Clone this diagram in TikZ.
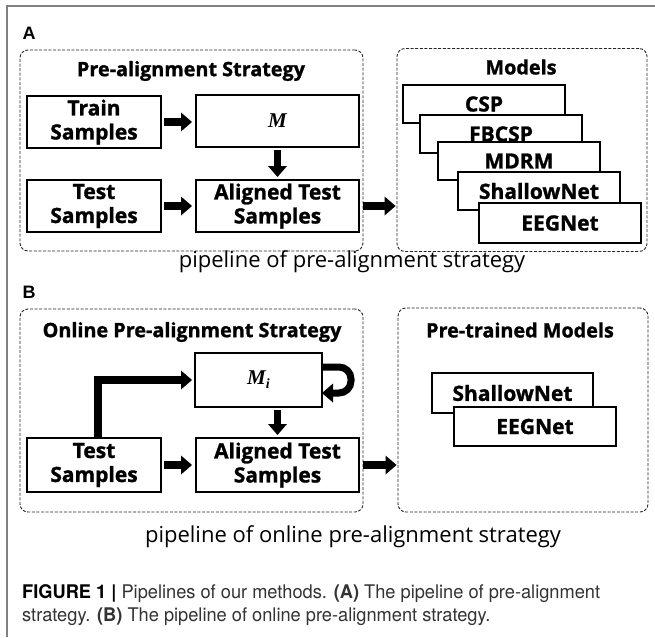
\documentclass[tikz,border=0pt]{standalone}
\usepackage{fontspec}
\setmainfont{Open Sans}[BoldFeatures={FakeBold=1.2}]
\newfontfamily\capfont[FakeStretch=0.97]{TeX Gyre Heros}
\newfontfamily\labfont{Liberation Sans}
\newfontfamily\mserif{Liberation Serif}
\usetikzlibrary{arrows.meta}
\newcommand{\symM}{{\mserif\bfseries\itshape M}}
\newcommand{\symMi}{{\mserif\bfseries\itshape M\raisebox{-4pt}{\fontsize{14}{15}\selectfont i}}}
\begin{document}
\begin{tikzpicture}[x=1pt,y=-1pt,
  box/.style={draw, line width=2pt, fill=white, minimum height=52pt, inner sep=0pt,
    align=center, font=\bfseries\fontsize{21}{24}\selectfont},
  mbox/.style={draw, line width=2pt, fill=white, minimum width=162pt, minimum height=38pt,
    inner sep=0pt, font=\bfseries\fontsize{21}{23}\selectfont},
  grp/.style={draw=black!85, dash pattern=on 3pt off 1.6pt, line width=0.9pt,
    rounded corners=8pt, inner sep=0pt},
  ttl/.style={font=\bfseries\fontsize{19.8}{22}\selectfont, inner sep=0pt},
  sub/.style={font=\fontsize{22}{25}\selectfont, inner sep=0pt},
  lab/.style={font=\labfont\bfseries\fontsize{18}{20}\selectfont, inner sep=0pt},
  barrow/.style={line width=8pt, -{Triangle[width=19pt,length=11pt,line width=0pt]}},
  varrow/.style={line width=7pt, -{Triangle[width=19pt,length=11pt,line width=0pt]}},
  mathlab/.style={font=\fontsize{21}{24}\selectfont}
]
\useasboundingbox (0,0) rectangle (655,637);
\fill[white] (0,0) rectangle (655,637);
\draw[black!50, line width=1.5pt] (7,637) -- (7,6) -- (655,6);

% ---------- A ----------
\node[lab] (la) at (29,33) {A};
\node[grp, minimum width=343pt, minimum height=201pt] (gA) at (191.5,150.5) {};
\node[grp, minimum width=250pt, minimum height=203pt] (gMA) at (522,150) {};
\node[ttl] (tA) at (191,71) {Pre-alignment Strategy};
\node[ttl] (tMA) at (521,67) {Models};

\node[box, minimum width=134pt] (train) at (94,122) {Train\\Samples};
\node[box, minimum width=163pt, mathlab] (M) at (277.5,121) {\symM};
\node[box, minimum width=134pt] (testA) at (94,206) {Test\\Samples};
\node[box, minimum width=163pt] (alA) at (277.5,206) {Aligned Test\\Samples};

\node[mbox] (m1) at (484,104) {CSP};
\node[mbox] (m2) at (501,134) {FBCSP};
\node[mbox] (m3) at (519,161) {MDRM};
\node[mbox] (m4) at (539,191) {ShallowNet};
\node[mbox, minimum height=40pt] (m5) at (560,223) {EEGNet};

\draw[barrow, shorten <=2pt, shorten >=3pt] (train.east) -- (M.west |- train.east);
\draw[varrow, shorten <=2pt, shorten >=2pt] (M.south) -- (alA.north);
\draw[barrow, shorten <=2pt, shorten >=3pt] (testA.east) -- (alA.west);
\draw[barrow, shorten <=3pt, shorten >=1pt] (alA.east) -- (alA.east -| gMA.west);

\node[sub] (sA) at (352,262) {pipeline of pre-alignment strategy};

% ---------- B ----------
\node[lab] (lb) at (29,292) {B};
\node[grp, minimum width=343pt, minimum height=203pt] (gB) at (191.5,410.5) {};
\node[grp, minimum width=250pt, minimum height=204pt] (gMB) at (523,410) {};
\node[ttl] (tB) at (192,332) {Online Pre-alignment Strategy};
\node[ttl] (tMB) at (520,330) {Pre-trained Models};

\node[box, minimum width=127pt, minimum height=54pt, mathlab] (Mi) at (258.5,380) {\symMi};
\node[box, minimum width=134pt, minimum height=54pt] (testB) at (94,465) {Test\\Samples};
\node[box, minimum width=163pt, minimum height=54pt] (alB) at (277.5,465) {Aligned Test\\Samples};

\node[mbox, minimum width=161pt, minimum height=40pt] (p1) at (512.5,393) {ShallowNet};
\node[mbox, minimum width=162pt, minimum height=39pt] (p2) at (535,426.5) {EEGNet};

\draw[barrow, shorten >=2pt] ([xshift=4pt]testB.north) |- (Mi.west);
\draw[varrow, rounded corners=12pt, line width=7pt, shorten >=-1pt] ([yshift=13pt]Mi.east) -- ++(28,0) -- ++(0,26) -- ++(-28,0);
\draw[varrow, shorten <=2pt, shorten >=2pt] (alB.north |- Mi.south) -- (alB.north);
\draw[barrow, shorten <=2pt, shorten >=3pt] (testB.east) -- (alB.west);
\draw[barrow, shorten <=3pt, shorten >=1pt] (alB.east) -- (alB.east -| gMB.west);

\node[sub] (sB) at (353,537) {pipeline of online pre-alignment strategy};

% ---------- caption ----------
\node[anchor=west, align=left, inner sep=0pt, text=black!80,
  font=\capfont\fontsize{18.8}{23}\selectfont] (cap) at (22,605)
  {\textbf{\color{black}FIGURE 1 |} Pipelines of our methods. \textbf{(A)} The pipeline of pre-alignment\\strategy. \textbf{(B)} The pipeline of online pre-alignment strategy.};
\end{tikzpicture}
\end{document}
